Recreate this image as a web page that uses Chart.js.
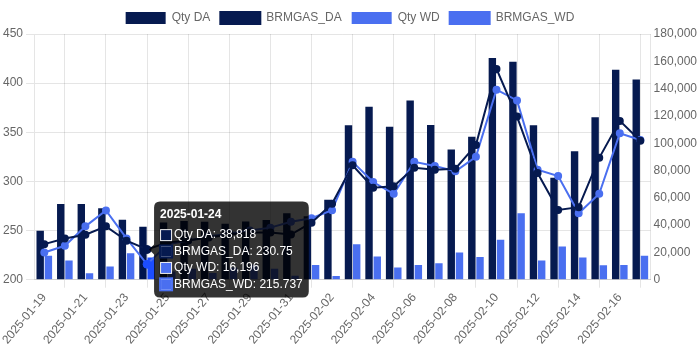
<!DOCTYPE html>
<html><head><meta charset="utf-8">
<script src="https://cdn.jsdelivr.net/npm/chart.js@4"></script>
<style>html,body{margin:0;padding:0;background:#fff}#wrap{width:700px;height:350px}</style>
</head><body><div id="wrap"><canvas id="c" width="700" height="350"></canvas></div>
<script>
const labels = ['2025-01-19','2025-01-20','2025-01-21','2025-01-22','2025-01-23','2025-01-24','2025-01-25','2025-01-26','2025-01-27','2025-01-28','2025-01-29','2025-01-30','2025-01-31','2025-02-01','2025-02-02','2025-02-03','2025-02-04','2025-02-05','2025-02-06','2025-02-07','2025-02-08','2025-02-09','2025-02-10','2025-02-11','2025-02-12','2025-02-13','2025-02-14','2025-02-15','2025-02-16','2025-02-17'];
const qtyDA = [35900,55500,55500,52400,44000,38818,42000,43000,42500,41000,42600,43700,48700,46500,58500,113100,126700,112100,131300,113400,95400,104700,162500,159600,113100,74700,94200,119000,153900,146600];
const qtyWD = [17500,14000,4700,9600,19400,16196,6000,8000,5000,9000,11000,8000,3000,10800,2700,26000,17000,8900,10800,12000,19900,16700,29300,48700,14000,24300,16200,10600,10800,17500];
const brmgasDA = [236.2,242.0,245.8,254.3,239.7,230.75,238,240,243,246,248,248,246,258,277.2,316.5,293.5,295.0,314.0,312.0,313.0,337.0,414.5,366.0,308.6,271.0,273.8,324.0,361.6,341.4];
const brmgasWD = [227.7,234.5,254.3,270.4,242.0,215.737,236,240,244,247,250,253,259,262.5,270.7,319.9,299.4,287.4,319.9,315.8,310.3,325.0,393.3,382.4,312.0,305.5,267.6,287.4,348.9,342.1];
const leftTicks = {min:200, max:450, step:50};
const rightTicks = {min:0, max:180000, step:20000};

const NAVY = '#061a50';
const BLUE = '#4a6ff0';

Chart.defaults.font.family = "Arial, 'Liberation Sans', sans-serif";
Chart.defaults.font.size = 12;
Chart.defaults.color = '#666';

const chart = new Chart(document.getElementById('c'), {
  type: 'bar',
  data: {
    labels: labels,
    datasets: [
      {type:'bar', label:'Qty DA', data: qtyDA, backgroundColor: NAVY, yAxisID:'y1', order:1},
      {type:'line', label:'BRMGAS_DA', data: brmgasDA, borderColor: NAVY, backgroundColor: NAVY, borderWidth:2, pointRadius:3, tension:0, yAxisID:'y', order:0},
      {type:'bar', label:'Qty WD', data: qtyWD, backgroundColor: BLUE, yAxisID:'y1', order:1},
      {type:'line', label:'BRMGAS_WD', data: brmgasWD, borderColor: BLUE, backgroundColor: BLUE, borderWidth:2, pointRadius:3, tension:0, yAxisID:'y', order:0}
    ]
  },
  options: {
    responsive: false,
    animation: false,
    layout: {padding:{top:2}},
    interaction: {mode:'index', intersect:false},
    scales: {
      x: {ticks:{autoSkip:true}},
      y: {position:'left', min:leftTicks.min, max:leftTicks.max, ticks:{stepSize:leftTicks.step}},
      y1: {position:'right', min:rightTicks.min, max:rightTicks.max, ticks:{stepSize:rightTicks.step}, grid:{drawOnChartArea:false, drawTicks:false}}
    },
    plugins: {legend:{position:'top', labels:{sort:(a,b)=>a.datasetIndex-b.datasetIndex}}}
  }
});

const idx = labels.indexOf('2025-01-24');
const els = [0,1,2,3].map(d => ({datasetIndex:d, index:idx}));
chart.setActiveElements(els);
const p = chart.getDatasetMeta(1).data[idx];
chart.tooltip.setActiveElements(els, {x:p.x, y:p.y});
chart.update();
</script></body></html>
